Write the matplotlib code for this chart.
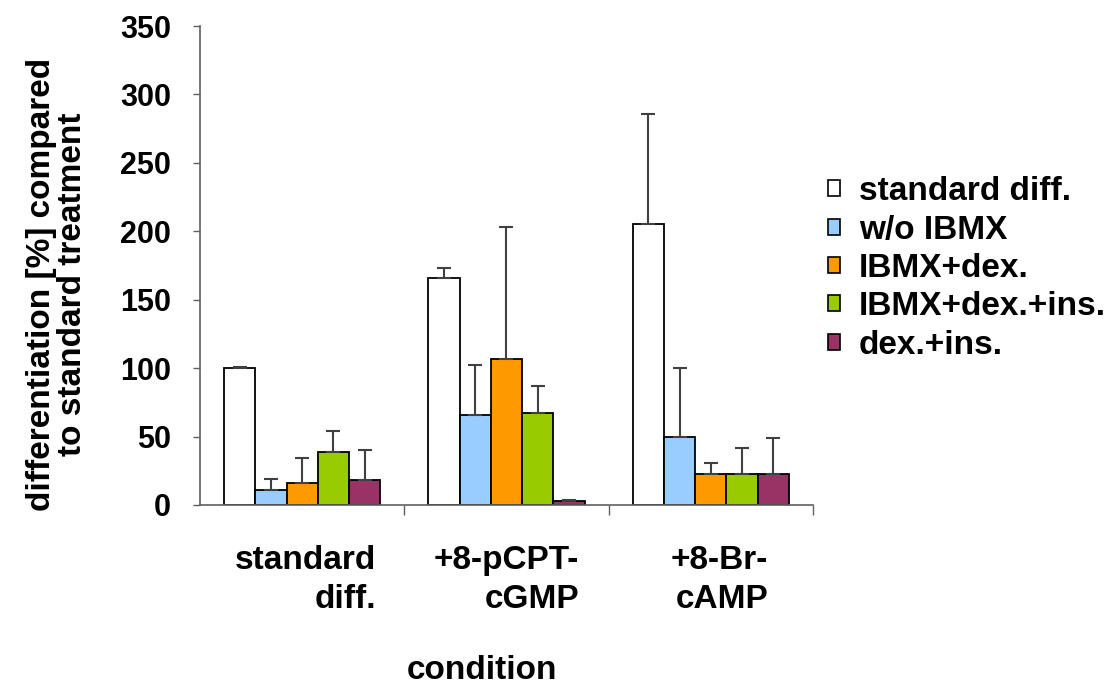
import matplotlib
matplotlib.use("Agg")
import matplotlib.pyplot as plt
import numpy as np
from matplotlib.patches import Rectangle
from matplotlib.transforms import blended_transform_factory

plt.rcParams['font.family'] = ['Liberation Sans', 'DejaVu Sans']
plt.rcParams['font.weight'] = 'bold'

categories = ["standard\ndiff.", "+8-pCPT-\ncGMP", "+8-Br-\ncAMP"]
series = ["standard diff.", "w/o IBMX", "IBMX+dex.", "IBMX+dex.+ins.", "dex.+ins."]
colors = ["#FFFFFF", "#99CCFF", "#FF9900", "#99CC00", "#993366"]

standard_diff = [100, 166, 205]
wo_ibmx = [11, 66, 50]
ibmx_dex = [16, 107, 23]
ibmx_dex_ins = [39, 67, 23]
dex_ins = [18, 3, 23]

err_standard_diff = [0.5, 7, 81]
err_wo_ibmx = [8, 36, 50]
err_ibmx_dex = [18, 96, 8]
err_ibmx_dex_ins = [15, 20, 19]
err_dex_ins = [22, 0.5, 26]

values = [standard_diff, wo_ibmx, ibmx_dex, ibmx_dex_ins, dex_ins]
errors = [err_standard_diff, err_wo_ibmx, err_ibmx_dex, err_ibmx_dex_ins, err_dex_ins]

fig = plt.figure(figsize=(11.05, 6.87), dpi=100)
ax = fig.add_axes([200/1105, 1-505/687, 613/1105, 479/687])

x = np.arange(len(categories))
w = 0.153
offsets = (np.arange(len(series)) - 2) * w
for i, (vals, errs) in enumerate(zip(values, errors)):
    ax.bar(x + offsets[i], vals, width=w, color=colors[i], edgecolor='black',
           linewidth=1.3, label=series[i], zorder=2)
    ax.errorbar(x + offsets[i], vals, yerr=[np.zeros(len(errs)), errs], fmt='none',
                ecolor='#404040', elinewidth=1.5, capsize=5, capthick=1.5, zorder=3)

ax.set_xlim(-0.5, 2.5)
ax.set_ylim(0, 350)
ax.set_yticks(np.arange(0, 351, 50))
ax.tick_params(axis='y', labelsize=22, length=5, width=1, color='#606060', pad=16)
ax.set_xticks([0.5, 1.5, 2.5], minor=False)
ax.set_xticklabels([])
ax.tick_params(axis='x', length=7, width=1, color='#606060')
for lab in ax.get_yticklabels():
    lab.set_fontweight('bold')
for s in ['top', 'right']:
    ax.spines[s].set_visible(False)
for s in ['left', 'bottom']:
    ax.spines[s].set_color('#606060')
    ax.spines[s].set_linewidth(1.2)

trans = blended_transform_factory(ax.transData, fig.transFigure)
label_right = [0.361, 0.356, 0.28]
for xi, lab, r in zip(x, categories, label_right):
    ax.text(xi + r, 1-545/687, lab, transform=trans, ha='right', va='top',
            multialignment='right', fontsize=24, fontweight='bold', linespacing=1.35)

fig.text(482/1105, 1-679/687, "condition", ha='center', va='baseline', fontsize=24, fontweight='bold')
fig.text(57/1105, 1-284/687, "differentiation [%] compared\nto standard treatment", rotation=90,
         ha='center', va='center', fontsize=24, fontweight='bold', linespacing=1.0)

handles = [Rectangle((0, 0), 1, 1, facecolor=c, edgecolor='black', linewidth=1.2) for c in colors]
leg = fig.legend(handles, series, loc='upper left', bbox_to_anchor=(815/1105, 1-163/687),
                 frameon=False, fontsize=24, handlelength=0.36, handleheight=0.36,
                 handletextpad=0.55, labelspacing=0.22, borderaxespad=0)
for t in leg.get_texts():
    t.set_fontweight('bold')

fig.savefig("out.png", dpi=100)
